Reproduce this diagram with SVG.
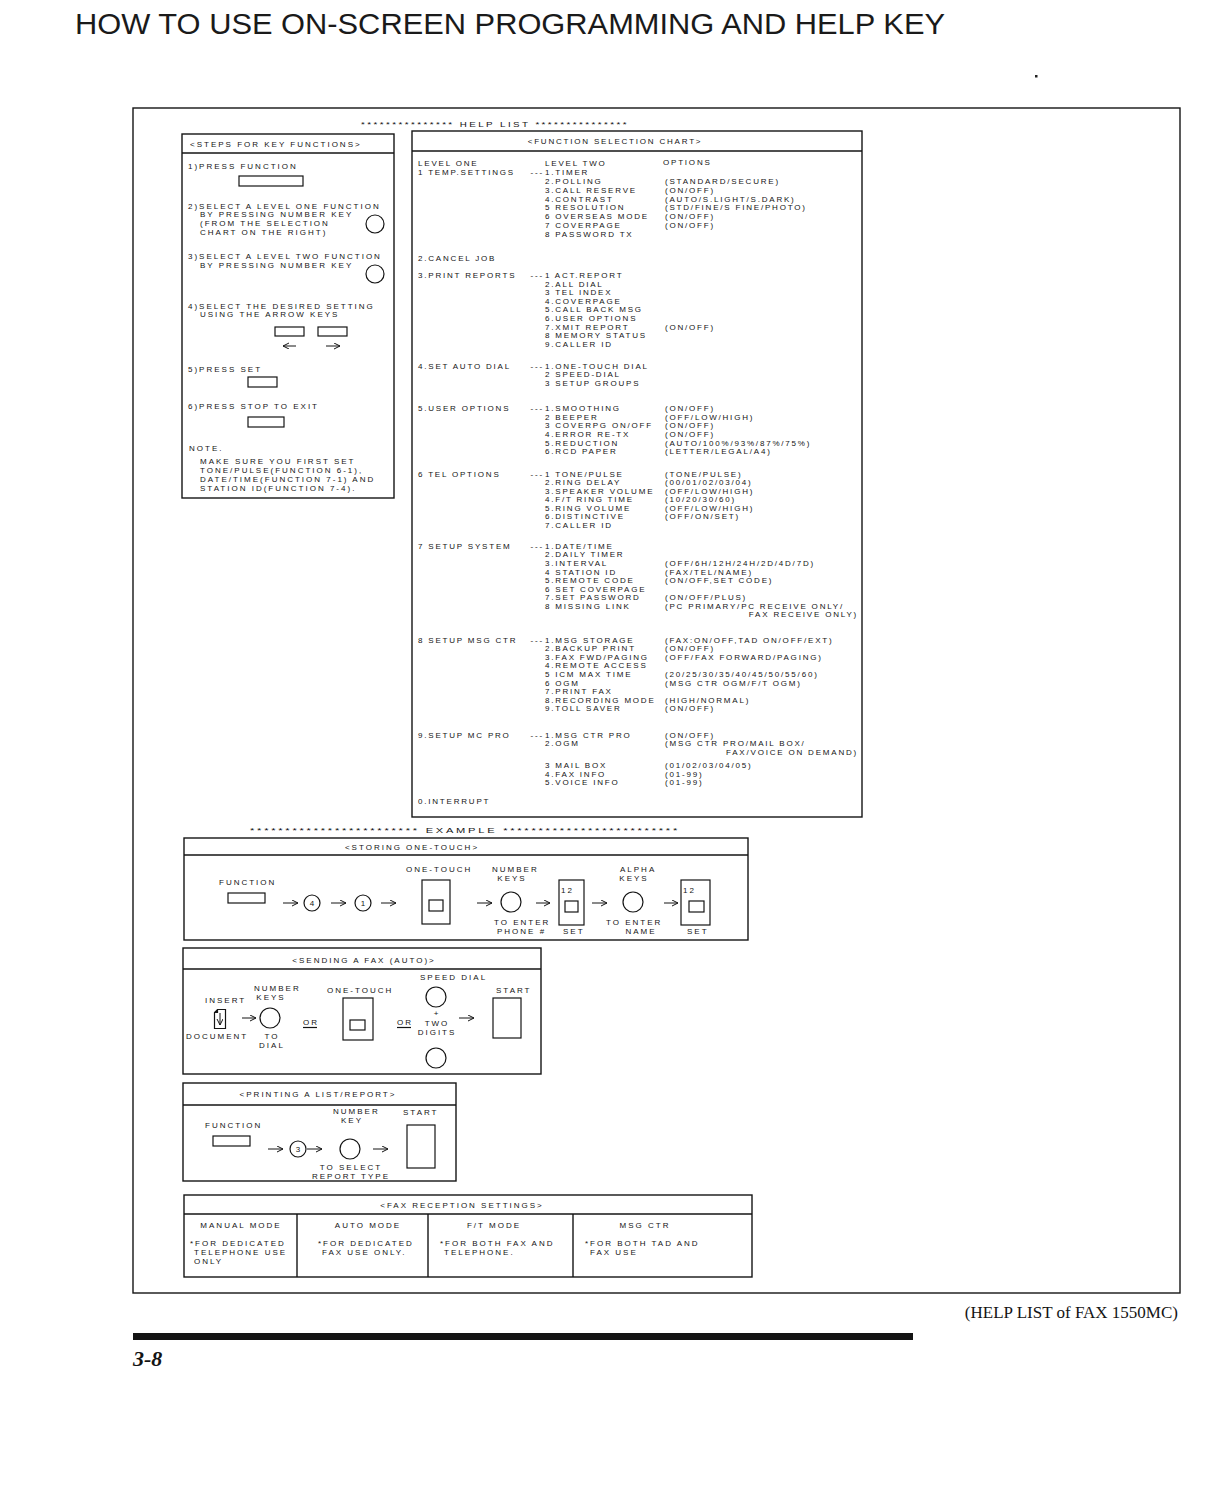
<svg xmlns="http://www.w3.org/2000/svg" width="1216" height="1486" viewBox="0 0 1216 1486">
<defs>
<style>
.t{font-family:"Liberation Sans",Arial,sans-serif;font-size:8px;letter-spacing:2px;fill:#141414}
.c{font-family:"Liberation Sans",Arial,sans-serif;font-size:8px;letter-spacing:1.8px;fill:#141414}
.m{text-anchor:middle}
.e{text-anchor:end}
.box{fill:none;stroke:#141414;stroke-width:1.4}
.key{fill:none;stroke:#141414;stroke-width:1.2}
.arr{fill:none;stroke:#141414;stroke-width:1;marker-end:url(#ah)}
</style>
<marker id="ah" markerUnits="userSpaceOnUse" markerWidth="8" markerHeight="8" refX="6" refY="3" orient="auto">
<path d="M0,0 L6,3 L0,6" fill="none" stroke="#141414" stroke-width="1"/>
</marker>
</defs>
<rect width="1216" height="1486" fill="#fff"/>
<text x="75" y="34" font-family="Liberation Sans,Arial,sans-serif" font-size="29" fill="#1a1a1a" textLength="870" lengthAdjust="spacingAndGlyphs">HOW TO USE ON-SCREEN PROGRAMMING AND HELP KEY</text>
<rect x="1035" y="75" width="2.5" height="2.5" fill="#222"/>

<g id="frame">
<rect class="box" x="133" y="108" width="1047" height="1185"/>
<text class="t m" x="495" y="127" textLength="268" lengthAdjust="spacingAndGlyphs">*************** HELP LIST ***************</text>
</g>

<g id="steps">
<rect class="box" x="182" y="134" width="212" height="364"/>
<line class="box" x1="182" y1="153" x2="394" y2="153"/>
<text class="t" x="190" y="147">&lt;STEPS FOR KEY FUNCTIONS&gt;</text>
<text class="t" x="188" y="169">1)PRESS FUNCTION</text>
<rect class="key" x="239" y="176" width="64" height="10"/>
<text class="t" x="188" y="209">2)SELECT A LEVEL ONE FUNCTION</text>
<text class="t" x="200" y="217">BY PRESSING NUMBER KEY</text>
<text class="t" x="200" y="226">(FROM THE SELECTION</text>
<text class="t" x="200" y="235">CHART ON THE RIGHT)</text>
<circle class="key" cx="375" cy="224" r="9"/>
<text class="t" x="188" y="259">3)SELECT A LEVEL TWO FUNCTION</text>
<text class="t" x="200" y="268">BY PRESSING NUMBER KEY</text>
<circle class="key" cx="375" cy="274" r="9"/>
<text class="t" x="188" y="309">4)SELECT THE DESIRED SETTING</text>
<text class="t" x="200" y="317">USING THE ARROW KEYS</text>
<rect class="key" x="275" y="327" width="29" height="9"/>
<rect class="key" x="318" y="327" width="29" height="9"/>
<text class="t" x="188" y="372">5)PRESS SET</text>
<rect class="key" x="248" y="377" width="29" height="10"/>
<text class="t" x="188" y="409">6)PRESS STOP TO EXIT</text>
<rect class="key" x="248" y="417" width="36" height="10"/>
<text class="t" x="189" y="451">NOTE.</text>
<text class="t" x="200" y="464">MAKE SURE YOU FIRST SET</text>
<text class="t" x="200" y="473">TONE/PULSE(FUNCTION 6-1),</text>
<text class="t" x="200" y="482">DATE/TIME(FUNCTION 7-1) AND</text>
<text class="t" x="200" y="491">STATION ID(FUNCTION 7-4).</text>
</g>

<g id="chart">
<rect class="box" x="412" y="131" width="450" height="686"/>
<line class="box" x1="412" y1="151" x2="862" y2="151"/>
<text class="c m" x="615" y="144">&lt;FUNCTION SELECTION CHART&gt;</text>
<text class="c" x="418" y="166">LEVEL ONE</text>
<text class="c" x="545" y="166">LEVEL TWO</text>
<text class="c" x="663" y="165">OPTIONS</text>
<text class="c" x="418" y="175">1 TEMP.SETTINGS</text><text class="c e" x="544" y="175">---</text>
<text class="c" x="545" y="175">1.TIMER</text>
<text class="c" x="545" y="184">2.POLLING</text><text class="c" x="665" y="184">(STANDARD/SECURE)</text>
<text class="c" x="545" y="193">3.CALL RESERVE</text><text class="c" x="665" y="193">(ON/OFF)</text>
<text class="c" x="545" y="202">4.CONTRAST</text><text class="c" x="665" y="202">(AUTO/S.LIGHT/S.DARK)</text>
<text class="c" x="545" y="210">5 RESOLUTION</text><text class="c" x="665" y="210">(STD/FINE/S FINE/PHOTO)</text>
<text class="c" x="545" y="219">6 OVERSEAS MODE</text><text class="c" x="665" y="219">(ON/OFF)</text>
<text class="c" x="545" y="228">7 COVERPAGE</text><text class="c" x="665" y="228">(ON/OFF)</text>
<text class="c" x="545" y="237">8 PASSWORD TX</text>

<text class="c" x="418" y="261">2.CANCEL JOB</text>

<text class="c" x="418" y="278">3.PRINT REPORTS</text><text class="c e" x="544" y="278">---</text>
<text class="c" x="545" y="278">1 ACT.REPORT</text>
<text class="c" x="545" y="287">2.ALL DIAL</text>
<text class="c" x="545" y="295">3 TEL INDEX</text>
<text class="c" x="545" y="304">4.COVERPAGE</text>
<text class="c" x="545" y="312">5.CALL BACK MSG</text>
<text class="c" x="545" y="321">6.USER OPTIONS</text>
<text class="c" x="545" y="330">7.XMIT REPORT</text><text class="c" x="665" y="330">(ON/OFF)</text>
<text class="c" x="545" y="338">8 MEMORY STATUS</text>
<text class="c" x="545" y="347">9.CALLER ID</text>

<text class="c" x="418" y="369">4.SET AUTO DIAL</text><text class="c e" x="544" y="369">---</text>
<text class="c" x="545" y="369">1.ONE-TOUCH DIAL</text>
<text class="c" x="545" y="377">2 SPEED-DIAL</text>
<text class="c" x="545" y="386">3 SETUP GROUPS</text>

<text class="c" x="418" y="411">5.USER OPTIONS</text><text class="c e" x="544" y="411">---</text>
<text class="c" x="545" y="411">1.SMOOTHING</text><text class="c" x="665" y="411">(ON/OFF)</text>
<text class="c" x="545" y="420">2 BEEPER</text><text class="c" x="665" y="420">(OFF/LOW/HIGH)</text>
<text class="c" x="545" y="428">3 COVERPG ON/OFF</text><text class="c" x="665" y="428">(ON/OFF)</text>
<text class="c" x="545" y="437">4.ERROR RE-TX</text><text class="c" x="665" y="437">(ON/OFF)</text>
<text class="c" x="545" y="446">5.REDUCTION</text><text class="c" x="665" y="446">(AUTO/100%/93%/87%/75%)</text>
<text class="c" x="545" y="454">6.RCD PAPER</text><text class="c" x="665" y="454">(LETTER/LEGAL/A4)</text>

<text class="c" x="418" y="477">6 TEL OPTIONS</text><text class="c e" x="544" y="477">---</text>
<text class="c" x="545" y="477">1 TONE/PULSE</text><text class="c" x="665" y="477">(TONE/PULSE)</text>
<text class="c" x="545" y="485">2.RING DELAY</text><text class="c" x="665" y="485">(00/01/02/03/04)</text>
<text class="c" x="545" y="494">3.SPEAKER VOLUME</text><text class="c" x="665" y="494">(OFF/LOW/HIGH)</text>
<text class="c" x="545" y="502">4.F/T RING TIME</text><text class="c" x="665" y="502">(10/20/30/60)</text>
<text class="c" x="545" y="511">5.RING VOLUME</text><text class="c" x="665" y="511">(OFF/LOW/HIGH)</text>
<text class="c" x="545" y="519">6.DISTINCTIVE</text><text class="c" x="665" y="519">(OFF/ON/SET)</text>
<text class="c" x="545" y="528">7.CALLER ID</text>

<text class="c" x="418" y="549">7 SETUP SYSTEM</text><text class="c e" x="544" y="549">---</text>
<text class="c" x="545" y="549">1.DATE/TIME</text>
<text class="c" x="545" y="557">2.DAILY TIMER</text>
<text class="c" x="545" y="566">3.INTERVAL</text><text class="c" x="665" y="566">(OFF/6H/12H/24H/2D/4D/7D)</text>
<text class="c" x="545" y="575">4 STATION ID</text><text class="c" x="665" y="575">(FAX/TEL/NAME)</text>
<text class="c" x="545" y="583">5.REMOTE CODE</text><text class="c" x="665" y="583">(ON/OFF,SET CODE)</text>
<text class="c" x="545" y="592">6 SET COVERPAGE</text>
<text class="c" x="545" y="600">7.SET PASSWORD</text><text class="c" x="665" y="600">(ON/OFF/PLUS)</text>
<text class="c" x="545" y="609">8 MISSING LINK</text><text class="c" x="665" y="609">(PC PRIMARY/PC RECEIVE ONLY/</text>
<text class="c e" x="858" y="617">FAX RECEIVE ONLY)</text>

<text class="c" x="418" y="643">8 SETUP MSG CTR</text><text class="c e" x="544" y="643">---</text>
<text class="c" x="545" y="643">1.MSG STORAGE</text><text class="c" x="665" y="643">(FAX:ON/OFF,TAD ON/OFF/EXT)</text>
<text class="c" x="545" y="651">2.BACKUP PRINT</text><text class="c" x="665" y="651">(ON/OFF)</text>
<text class="c" x="545" y="660">3.FAX FWD/PAGING</text><text class="c" x="665" y="660">(OFF/FAX FORWARD/PAGING)</text>
<text class="c" x="545" y="668">4.REMOTE ACCESS</text>
<text class="c" x="545" y="677">5 ICM MAX TIME</text><text class="c" x="665" y="677">(20/25/30/35/40/45/50/55/60)</text>
<text class="c" x="545" y="686">6 OGM</text><text class="c" x="665" y="686">(MSG CTR OGM/F/T OGM)</text>
<text class="c" x="545" y="694">7.PRINT FAX</text>
<text class="c" x="545" y="703">8.RECORDING MODE</text><text class="c" x="665" y="703">(HIGH/NORMAL)</text>
<text class="c" x="545" y="711">9.TOLL SAVER</text><text class="c" x="665" y="711">(ON/OFF)</text>

<text class="c" x="418" y="738">9.SETUP MC PRO</text><text class="c e" x="544" y="738">---</text>
<text class="c" x="545" y="738">1.MSG CTR PRO</text><text class="c" x="665" y="738">(ON/OFF)</text>
<text class="c" x="545" y="746">2.OGM</text><text class="c" x="665" y="746">(MSG CTR PRO/MAIL BOX/</text>
<text class="c e" x="858" y="755">FAX/VOICE ON DEMAND)</text>
<text class="c" x="545" y="768">3 MAIL BOX</text><text class="c" x="665" y="768">(01/02/03/04/05)</text>
<text class="c" x="545" y="777">4.FAX INFO</text><text class="c" x="665" y="777">(01-99)</text>
<text class="c" x="545" y="785">5.VOICE INFO</text><text class="c" x="665" y="785">(01-99)</text>
<text class="c" x="418" y="804">0.INTERRUPT</text>
</g>

<text class="t m" x="465" y="833" textLength="430" lengthAdjust="spacingAndGlyphs">************************ EXAMPLE *************************</text>

<g id="storing">
<rect class="box" x="184" y="838" width="564" height="102"/>
<line class="box" x1="184" y1="855" x2="748" y2="855"/>
<text class="t m" x="412" y="850">&lt;STORING ONE-TOUCH&gt;</text>
<text class="t" x="219" y="885">FUNCTION</text>
<rect class="key" x="228" y="893" width="37" height="10"/>
<circle class="key" cx="312" cy="903" r="8"/><text class="t m" x="313" y="906">4</text>
<circle class="key" cx="363" cy="903" r="8"/><text class="t m" x="364" y="906">1</text>
<text class="t" x="406" y="872">ONE-TOUCH</text>
<rect class="key" x="422" y="880" width="28" height="44"/>
<rect class="key" x="429" y="900" width="14" height="11"/>
<text class="t" x="492" y="872">NUMBER</text>
<text class="t m" x="512" y="881">KEYS</text>
<circle class="key" cx="511" cy="902" r="10"/>
<text class="t" x="494" y="925">TO ENTER</text>
<text class="t" x="497" y="934">PHONE #</text>
<rect class="key" x="559" y="880" width="25" height="45"/>
<text class="t" x="561" y="893">12</text>
<rect class="key" x="565" y="901" width="13" height="11"/>
<text class="t" x="563" y="934">SET</text>
<text class="t" x="620" y="872">ALPHA</text>
<text class="t m" x="634" y="881">KEYS</text>
<circle class="key" cx="633" cy="902" r="10"/>
<text class="t" x="606" y="925">TO ENTER</text>
<text class="t m" x="641" y="934">NAME</text>
<rect class="key" x="681" y="880" width="29" height="45"/>
<text class="t" x="683" y="893">12</text>
<rect class="key" x="689" y="901" width="15" height="11"/>
<text class="t" x="687" y="934">SET</text>
</g>

<g id="sending">
<rect class="box" x="183" y="948" width="358" height="126"/>
<line class="box" x1="183" y1="969" x2="541" y2="969"/>
<text class="t m" x="364" y="963">&lt;SENDING A FAX (AUTO)&gt;</text>
<text class="t" x="205" y="1003">INSERT</text>
<path class="key" d="M217.5,1009.5 H225.5 V1028.5 H214.5 V1012.5 Z M217.5,1009.5 V1012.5 H214.5"/>
<text class="t" x="254" y="991">NUMBER</text>
<text class="t m" x="271" y="1000">KEYS</text>
<circle class="key" cx="270" cy="1018" r="10"/>
<text class="t" x="186" y="1039">DOCUMENT</text>
<text class="t m" x="272" y="1039">TO</text>
<text class="t m" x="272" y="1048">DIAL</text>
<text class="t" x="303" y="1025">OR</text>
<line class="key" x1="303" y1="1027.5" x2="317" y2="1027.5"/>
<text class="t" x="327" y="993">ONE-TOUCH</text>
<rect class="key" x="343" y="998" width="30" height="42"/>
<rect class="key" x="350" y="1020" width="15" height="10"/>
<text class="t" x="397" y="1025">OR</text>
<line class="key" x1="397" y1="1027.5" x2="411" y2="1027.5"/>
<text class="t" x="420" y="980">SPEED DIAL</text>
<circle class="key" cx="436" cy="997" r="10"/>
<text class="t m" x="437" y="1016" font-size="7">+</text>
<text class="t m" x="437" y="1026">TWO</text>
<text class="t m" x="437" y="1035">DIGITS</text>
<circle class="key" cx="436" cy="1058" r="10"/>
<text class="t" x="496" y="993">START</text>
<rect class="key" x="493" y="998" width="28" height="40"/>
</g>

<g id="printing">
<rect class="box" x="183" y="1083" width="273" height="98"/>
<line class="box" x1="183" y1="1105" x2="456" y2="1105"/>
<text class="t m" x="318" y="1097">&lt;PRINTING A LIST/REPORT&gt;</text>
<text class="t" x="205" y="1128">FUNCTION</text>
<rect class="key" x="213" y="1136" width="37" height="10"/>
<circle class="key" cx="298" cy="1149" r="8"/><text class="t m" x="299" y="1152">3</text>
<text class="t" x="333" y="1114">NUMBER</text>
<text class="t m" x="352" y="1123">KEY</text>
<circle class="key" cx="350" cy="1149" r="10"/>
<text class="t" x="403" y="1115">START</text>
<rect class="key" x="407" y="1125" width="28" height="43"/>
<text class="t m" x="351" y="1170">TO SELECT</text>
<text class="t m" x="351" y="1179">REPORT TYPE</text>
</g>

<g id="reception">
<rect class="box" x="184" y="1195" width="568" height="82"/>
<line class="box" x1="184" y1="1214" x2="752" y2="1214"/>
<line class="box" x1="297" y1="1214" x2="297" y2="1277"/>
<line class="box" x1="428" y1="1214" x2="428" y2="1277"/>
<line class="box" x1="573" y1="1214" x2="573" y2="1277"/>
<text class="t m" x="462" y="1208">&lt;FAX RECEPTION SETTINGS&gt;</text>
<text class="t m" x="241" y="1228">MANUAL MODE</text>
<text class="t" x="190" y="1246">*FOR DEDICATED</text>
<text class="t" x="194" y="1255">TELEPHONE USE</text>
<text class="t" x="194" y="1264">ONLY</text>
<text class="t m" x="368" y="1228">AUTO MODE</text>
<text class="t" x="318" y="1246">*FOR DEDICATED</text>
<text class="t" x="322" y="1255">FAX USE ONLY.</text>
<text class="t m" x="494" y="1228">F/T MODE</text>
<text class="t" x="440" y="1246">*FOR BOTH FAX AND</text>
<text class="t" x="444" y="1255">TELEPHONE.</text>
<text class="t m" x="645" y="1228">MSG CTR</text>
<text class="t" x="585" y="1246">*FOR BOTH TAD AND</text>
<text class="t" x="590" y="1255">FAX USE</text>
</g>

<g id="connectors">
<line class="arr" x1="296" y1="346" x2="283" y2="346"/>
<line class="arr" x1="326" y1="346" x2="340" y2="346"/>
<line class="arr" x1="283" y1="903" x2="298" y2="903"/>
<line class="arr" x1="331" y1="903" x2="346" y2="903"/>
<line class="arr" x1="381" y1="903" x2="396" y2="903"/>
<line class="arr" x1="477" y1="903" x2="492" y2="903"/>
<line class="arr" x1="536" y1="903" x2="550" y2="903"/>
<line class="arr" x1="592" y1="903" x2="607" y2="903"/>
<line class="arr" x1="664" y1="903" x2="678" y2="903"/>
<line class="arr" x1="220" y1="1013" x2="220" y2="1025"/>
<line class="arr" x1="242" y1="1018" x2="256" y2="1018"/>
<line class="arr" x1="459" y1="1018" x2="474" y2="1018"/>
<line class="arr" x1="268" y1="1149" x2="283" y2="1149"/>
<line class="arr" x1="307" y1="1149" x2="322" y2="1149"/>
<line class="arr" x1="373" y1="1149" x2="388" y2="1149"/>
</g>

<text x="1178" y="1318" text-anchor="end" font-family="Liberation Serif,Times New Roman,serif" font-size="17" fill="#141414">(HELP LIST of FAX 1550MC)</text>
<rect x="133" y="1333" width="780" height="7" fill="#141414"/>
<text x="133" y="1366" font-family="Liberation Serif,Times New Roman,serif" font-size="22" font-weight="bold" font-style="italic" fill="#141414">3-8</text>
</svg>
